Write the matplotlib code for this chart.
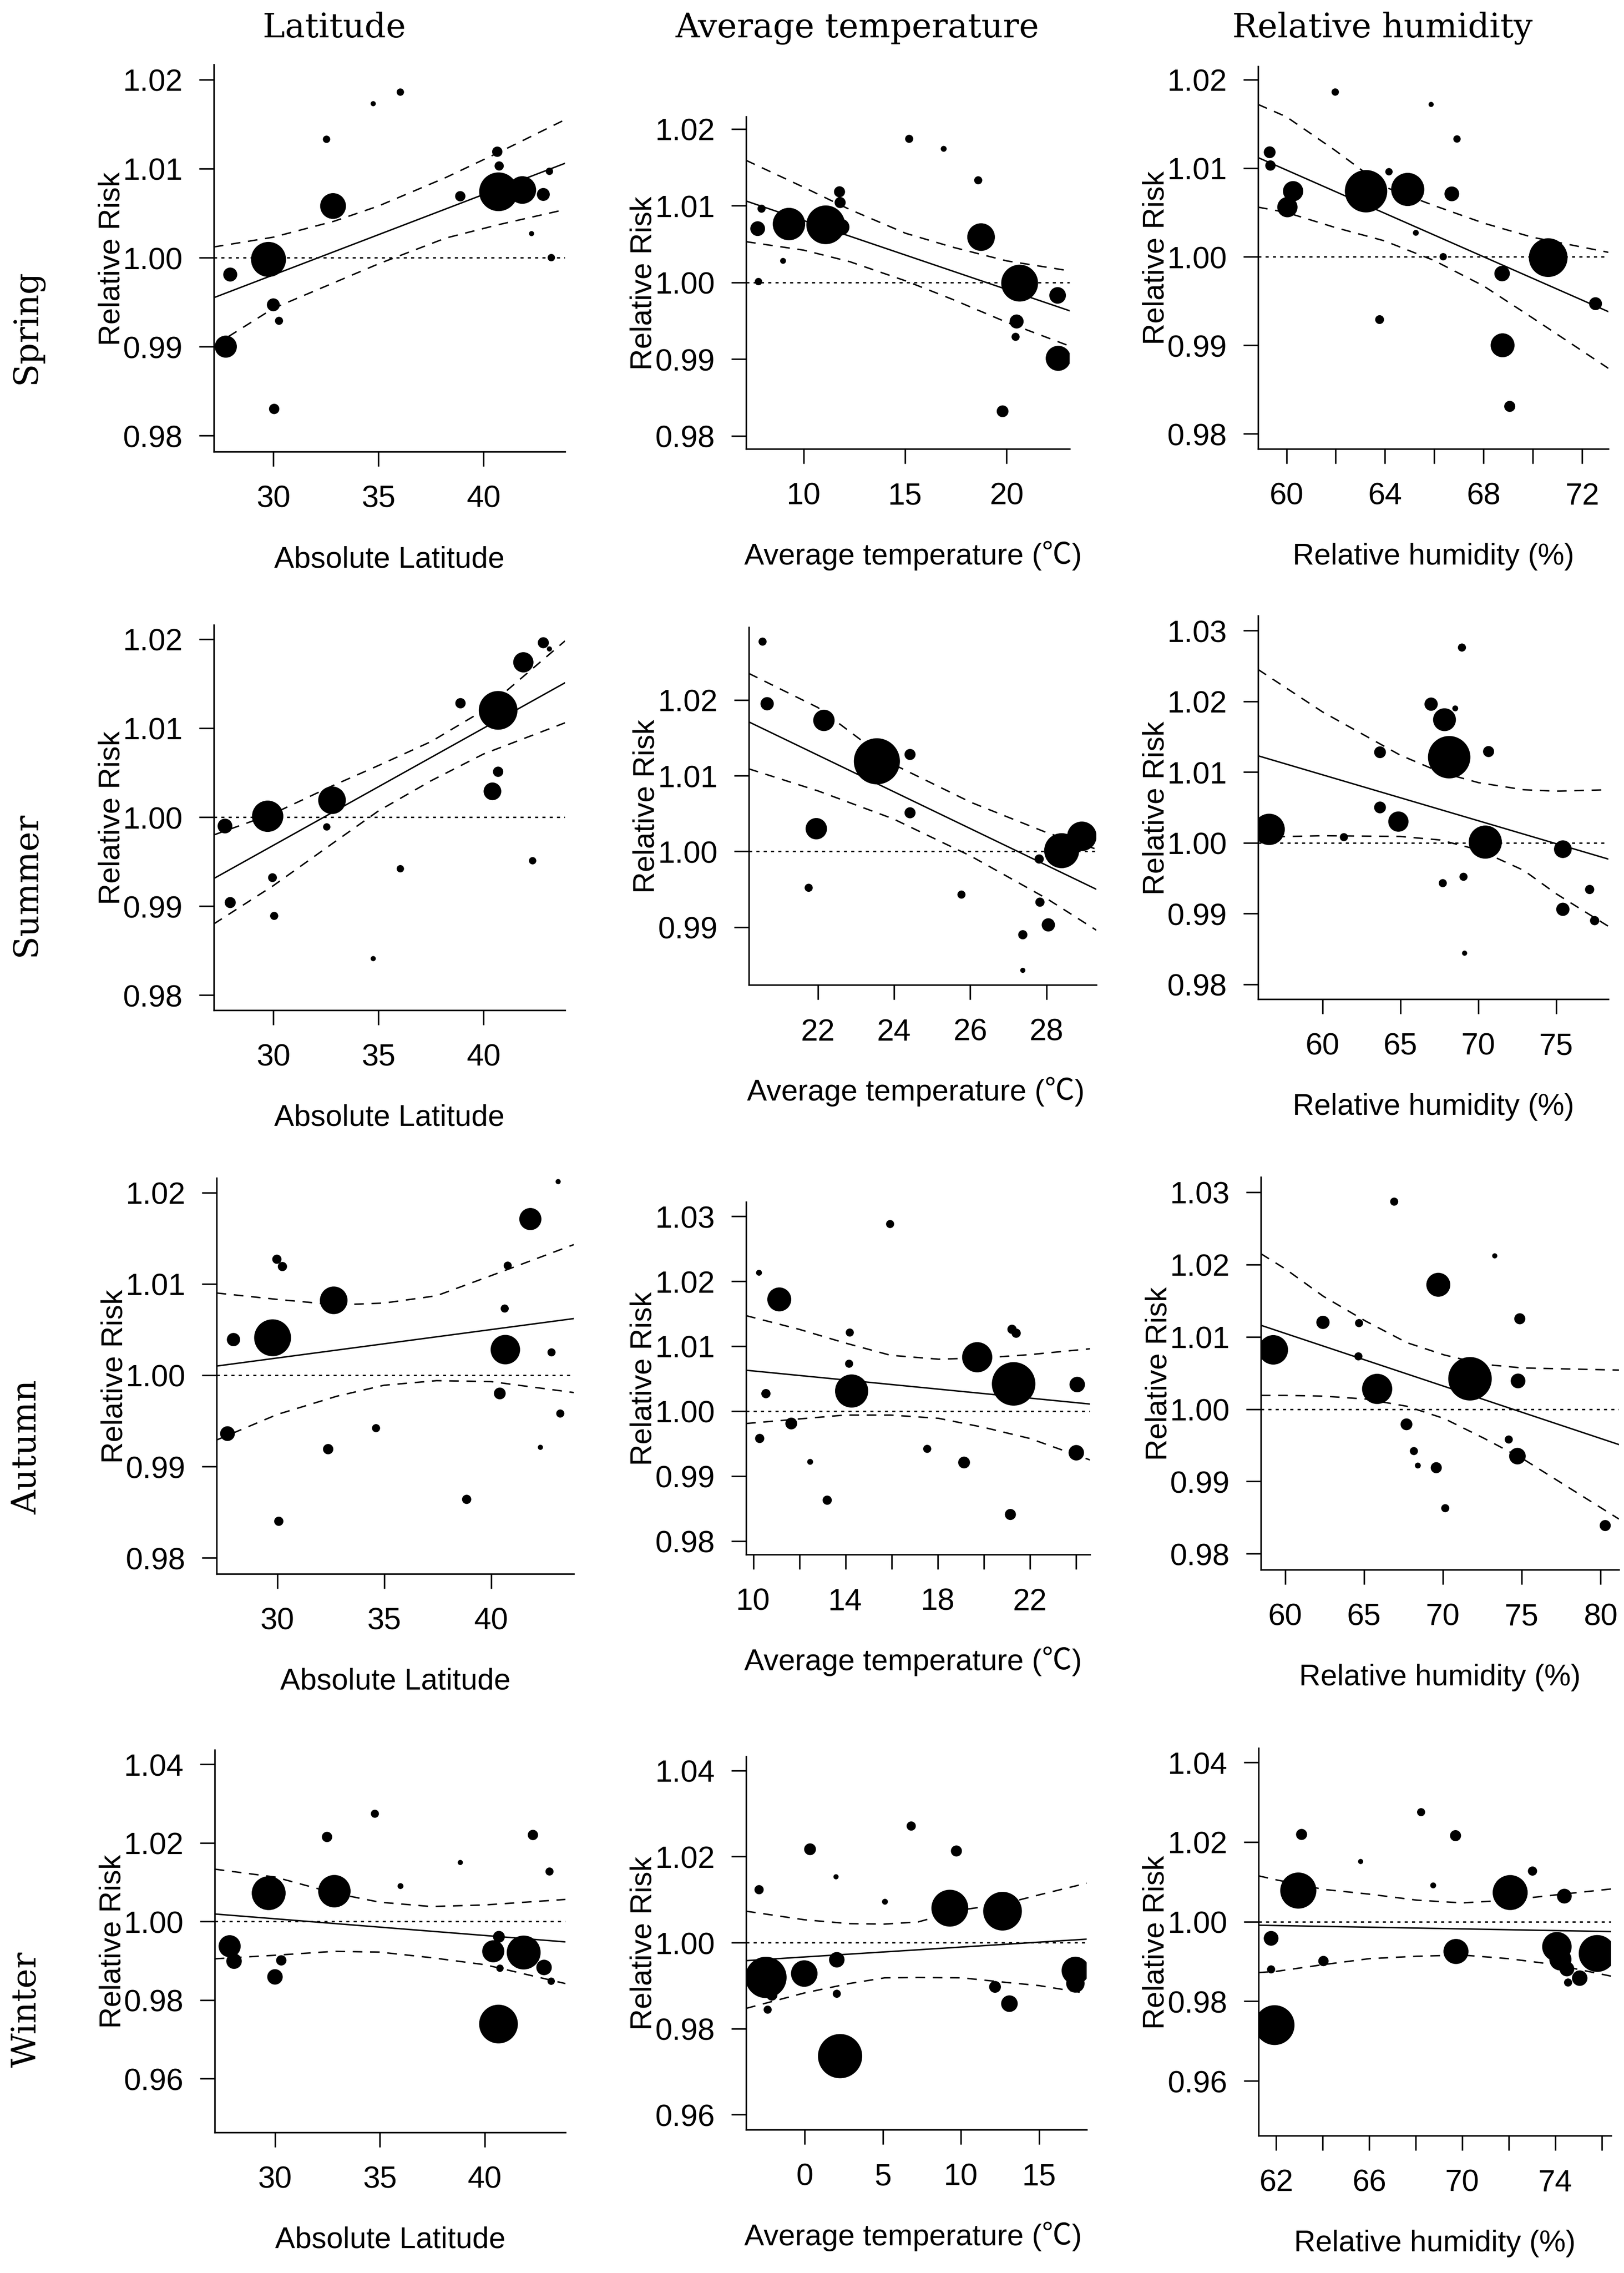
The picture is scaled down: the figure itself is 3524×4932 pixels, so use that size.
import numpy as np
import matplotlib
matplotlib.use("Agg")
import matplotlib.pyplot as plt
from matplotlib.text import Annotation

plt.rcParams['font.family'] = ['Liberation Sans', 'Noto Sans CJK SC', 'DejaVu Sans']
plt.rcParams['lines.scale_dashes'] = False

# ---------------- data ----------------
# Spring
spr_lat_x = [27.74, 27.95, 29.77, 30.00, 30.27, 30.04, 32.53, 32.84, 34.75, 36.04,
             38.89, 40.65, 40.74, 40.71, 41.84, 42.84, 42.28, 43.13, 43.22]
spr_lat_rr = [0.9900, 0.9981, 0.9998, 0.9947, 0.9929, 0.9830, 1.0133, 1.0058, 1.0173, 1.0186,
              1.0069, 1.0119, 1.0103, 1.0074, 1.0076, 1.0071, 1.0027, 1.0097, 1.0000]
spr_lat_w = [60, 38, 95, 35, 22, 28, 20, 70, 14, 20, 28, 28, 25, 105, 75, 35, 14, 20, 20]
spr_lat_fit = ([27.17, 43.87], [0.9955, 1.0106])
spr_lat_ci_x = [27.17, 30.0, 32.9, 35.0, 38.2, 40.7, 43.87]
spr_lat_hi = [1.0012, 1.0023, 1.0041, 1.0058, 1.0090, 1.0118, 1.0155]
spr_lat_lo = [0.9901, 0.9943, 0.9972, 0.9993, 1.0022, 1.0037, 1.0054]

spr_tmp_x = [7.74, 7.93, 7.78, 8.99, 9.28, 11.09, 11.85, 11.77, 11.80, 15.20,
             16.90, 18.60, 18.74, 20.64, 20.49, 20.44, 19.80, 22.51, 22.54]
spr_tmp_rr = [1.0070, 1.0096, 1.0001, 1.0028, 1.0076, 1.0075, 1.0072, 1.0118, 1.0104, 1.0187,
              1.0174, 1.0133, 1.0059, 0.9999, 0.9949, 0.9929, 0.9832, 0.9983, 0.9901]
spr_tmp_w = [40, 22, 20, 16, 88, 105, 45, 30, 30, 22, 16, 22, 75, 100, 38, 22, 32, 45, 68]
spr_tmp_fit = ([7.17, 23.10], [1.0106, 0.9963])
spr_tmp_ci_x = [7.17, 10.0, 12.27, 15.02, 17.32, 20.0, 23.10]
spr_tmp_hi = [1.0159, 1.0124, 1.0095, 1.0064, 1.0046, 1.0028, 1.0015]
spr_tmp_lo = [1.0053, 1.0042, 1.0027, 1.0002, 0.9978, 0.9948, 0.9917]

spr_rh_x = [59.32, 59.35, 60.27, 60.04, 61.98, 63.23, 64.16, 63.78, 64.92, 65.25,
            65.87, 66.36, 66.71, 66.92, 68.75, 68.77, 69.06, 70.62, 72.54]
spr_rh_rr = [1.0118, 1.0103, 1.0074, 1.0056, 1.0186, 1.0074, 1.0096, 0.9929, 1.0076, 1.0027,
             1.0172, 1.0000, 1.0071, 1.0133, 0.9981, 0.9900, 0.9831, 0.9999, 0.9947]
spr_rh_w = [32, 28, 55, 55, 20, 115, 20, 24, 90, 16, 14, 20, 40, 20, 42, 65, 30, 105, 35]
spr_rh_fit = ([58.85, 73.06], [1.0112, 0.9938])
spr_rh_ci_x = [58.85, 60.0, 61.98, 63.97, 65.97, 68.0, 69.98, 73.06]
spr_rh_hi = [1.0172, 1.0158, 1.0120, 1.0079, 1.0058, 1.0038, 1.0022, 1.0005]
spr_rh_lo = [1.0056, 1.0050, 1.0033, 1.0018, 0.9996, 0.9967, 0.9931, 0.9874]

# Summer
sum_lat_x = [27.70, 27.95, 29.73, 29.96, 30.04, 32.54, 32.79, 34.75, 36.04, 38.90,
             40.69, 40.69, 40.42, 41.89, 42.84, 43.13, 42.33]
sum_lat_rr = [0.9990, 0.9904, 1.0001, 0.9932, 0.9889, 0.9989, 1.0019, 0.9841, 0.9942, 1.0128,
              1.0120, 1.0051, 1.0029, 1.0174, 1.0196, 1.0189, 0.9951]
sum_lat_w = [40, 30, 85, 24, 22, 20, 75, 14, 20, 28, 105, 28, 48, 55, 30, 14, 20]
sum_lat_fit = ([27.17, 43.87], [0.9931, 1.0151])
sum_lat_ci_x = [27.17, 30.0, 32.79, 35.0, 37.51, 40.0, 43.87]
sum_lat_hi = [0.9980, 1.0004, 1.0035, 1.0058, 1.0085, 1.0120, 1.0198]
sum_lat_lo = [0.9880, 0.9923, 0.9970, 1.0007, 1.0041, 1.0071, 1.0106]

sum_tmp_x = [20.55, 20.67, 22.16, 23.55, 24.42, 24.42, 21.96, 21.76, 25.77, 27.38,
             27.38, 27.83, 28.05, 27.81, 28.40, 28.93]
sum_tmp_rr = [1.0277, 1.0195, 1.0173, 1.0119, 1.0128, 1.0051, 1.0030, 0.9952, 0.9943, 0.9890,
              0.9843, 0.9933, 0.9903, 0.9990, 1.0001, 1.0020]
sum_tmp_w = [22, 36, 58, 125, 30, 30, 58, 22, 22, 25, 14, 25, 36, 25, 95, 80]
sum_tmp_fit = ([20.19, 29.31], [1.0171, 0.9950])
sum_tmp_ci_x = [20.19, 22.0, 23.98, 26.01, 28.0, 29.31]
sum_tmp_hi = [1.0235, 1.0190, 1.0115, 1.0065, 1.0025, 1.0003]
sum_tmp_lo = [1.0109, 1.0080, 1.0043, 0.9994, 0.9938, 0.9896]

sum_rh_x = [56.57, 61.37, 63.69, 63.69, 64.87, 66.97, 67.83, 68.52, 68.13, 68.95,
            70.66, 70.45, 67.72, 69.05, 69.12, 75.43, 75.43, 77.15, 77.47]
sum_rh_rr = [1.0019, 1.0008, 1.0128, 1.0050, 1.0030, 1.0196, 1.0174, 1.0190, 1.0121, 1.0276,
             1.0129, 1.0001, 0.9943, 0.9952, 0.9844, 0.9991, 0.9906, 0.9934, 0.9890]
sum_rh_w = [85, 22, 32, 32, 55, 36, 62, 16, 115, 22, 30, 90, 22, 22, 14, 48, 36, 25, 25]
sum_rh_fit = ([55.86, 78.35], [1.0123, 0.9977])
sum_rh_ci_x = [55.86, 60.0, 64.98, 67.55, 70.02, 72.92, 75.0, 78.35]
sum_rh_hi = [1.0245, 1.0185, 1.0124, 1.0100, 1.0085, 1.0075, 1.0073, 1.0075]
sum_rh_lo = [1.0008, 1.0010, 1.0009, 1.0004, 0.9990, 0.9961, 0.9928, 0.9882]

# Autumn
aut_lat_x = [27.67, 27.95, 29.78, 29.98, 30.24, 30.07, 32.38, 32.64, 34.62, 38.86,
             40.78, 40.64, 40.67, 40.41, 41.84, 42.83, 43.24, 42.31, 43.14]
aut_lat_rr = [0.9936, 1.0039, 1.0041, 1.0127, 1.0119, 0.9840, 0.9919, 1.0082, 0.9942, 0.9864,
              1.0120, 1.0073, 1.0028, 0.9980, 1.0171, 1.0025, 0.9958, 0.9921, 1.0212]
aut_lat_w = [40, 36, 100, 25, 25, 25, 28, 75, 22, 25, 22, 22, 80, 32, 60, 22, 22, 14, 14]
aut_lat_fit = ([27.16, 43.87], [1.0010, 1.0062])
aut_lat_ci_x = [27.16, 30.0, 32.79, 35.0, 37.45, 40.0, 43.87]
aut_lat_hi = [1.0090, 1.0083, 1.0077, 1.0079, 1.0087, 1.0109, 1.0143]
aut_lat_lo = [0.9929, 0.9957, 0.9977, 0.9989, 0.9994, 0.9993, 0.9981]

aut_tmp_x = [10.25, 11.13, 10.55, 10.28, 11.65, 12.47, 13.21, 14.19, 14.16, 14.27,
             15.94, 17.55, 19.15, 19.72, 21.23, 21.41, 21.30, 21.16, 24.06, 24.02]
aut_tmp_rr = [1.0213, 1.0172, 1.0027, 0.9958, 0.9981, 0.9922, 0.9863, 1.0121, 1.0073, 1.0031,
              1.0288, 0.9942, 0.9921, 1.0083, 1.0126, 1.0120, 1.0042, 0.9841, 1.0041, 0.9936]
aut_tmp_w = [16, 65, 25, 25, 32, 16, 25, 22, 22, 90, 22, 22, 32, 82, 25, 25, 118, 30, 42, 42]
aut_tmp_fit = ([9.69, 24.61], [1.0063, 1.0011])
aut_tmp_ci_x = [9.69, 11.99, 13.98, 15.96, 18.04, 20.01, 22.0, 24.61]
aut_tmp_hi = [1.0147, 1.0126, 1.0105, 1.0086, 1.0080, 1.0082, 1.0087, 1.0096]
aut_tmp_lo = [0.9981, 0.9988, 0.9994, 0.9994, 0.9989, 0.9975, 0.9958, 0.9925]

aut_rh_x = [59.24, 62.39, 64.68, 64.64, 65.83, 66.91, 69.71, 67.69, 68.16, 68.41,
            69.58, 70.15, 71.72, 73.29, 74.88, 74.77, 74.18, 74.73, 80.30]
aut_rh_rr = [1.0082, 1.0120, 1.0119, 1.0073, 1.0028, 1.0287, 1.0172, 0.9979, 0.9942, 0.9922,
             0.9919, 0.9863, 1.0042, 1.0212, 1.0125, 1.0039, 0.9958, 0.9935, 0.9839]
aut_rh_w = [80, 36, 22, 22, 82, 22, 65, 32, 22, 16, 30, 22, 118, 14, 30, 40, 22, 45, 30]
aut_rh_fit = ([58.45, 81.17], [1.0116, 0.9951])
aut_rh_ci_x = [58.45, 60.0, 62.42, 65.08, 67.71, 70.08, 72.58, 75.02, 81.17]
aut_rh_hi = [1.0215, 1.0194, 1.0156, 1.0122, 1.0092, 1.0075, 1.0062, 1.0057, 1.0054]
aut_rh_lo = [1.0019, 1.0019, 1.0018, 1.0014, 1.0004, 0.9987, 0.9960, 0.9932, 0.9848]

# Winter
win_lat_x = [27.84, 28.05, 29.70, 30.00, 30.30, 32.48, 32.83, 34.76, 35.98, 38.83,
             40.67, 40.40, 40.72, 40.65, 41.85, 42.82, 43.16, 42.29, 43.08]
win_lat_rr = [0.9937, 0.9899, 1.0072, 0.9859, 0.9901, 1.0215, 1.0077, 1.0274, 1.0090, 1.0150,
              0.9961, 0.9924, 0.9881, 0.9739, 0.9921, 0.9883, 0.9848, 1.0220, 1.0127]
win_lat_w = [60, 42, 92, 42, 28, 28, 88, 22, 16, 14, 32, 60, 20, 105, 92, 42, 20, 28, 22]
win_lat_fit = ([27.13, 43.84], [1.0019, 0.9948])
win_lat_ci_x = [27.13, 30.0, 32.83, 34.99, 37.43, 40.0, 43.84]
win_lat_hi = [1.0133, 1.0113, 1.0072, 1.0049, 1.0038, 1.0042, 1.0056]
win_lat_lo = [0.9905, 0.9914, 0.9924, 0.9922, 0.9908, 0.9890, 0.9842]

win_tmp_x = [-2.91, -2.47, -2.09, -2.36, -0.02, 0.35, 2.01, 2.06, 2.06, 2.27,
             5.14, 6.82, 9.29, 9.71, 12.66, 12.18, 13.10, 17.32, 17.32]
win_tmp_rr = [1.0123, 0.9919, 0.9878, 0.9844, 0.9928, 1.0217, 1.0153, 0.9960, 0.9881, 0.9736,
              1.0095, 1.0271, 1.0080, 1.0213, 1.0073, 0.9897, 0.9858, 0.9935, 0.9905]
win_tmp_w = [25, 112, 30, 22, 72, 32, 14, 42, 22, 120, 16, 25, 100, 30, 105, 32, 45, 75, 50]
win_tmp_fit = ([-3.74, 18.04], [0.9958, 1.0008])
win_tmp_ci_x = [-3.74, 0.0, 2.89, 5.12, 7.26, 10.06, 12.73, 15.0, 18.04]
win_tmp_hi = [1.0073, 1.0053, 1.0044, 1.0043, 1.0048, 1.0076, 1.0090, 1.0111, 1.0138]
win_tmp_lo = [0.9847, 0.9883, 0.9905, 0.9918, 0.9919, 0.9918, 0.9908, 0.9900, 0.9882]

win_rh_x = [61.93, 61.78, 61.78, 62.95, 63.09, 64.03, 65.63, 68.23, 68.75, 69.71,
            69.73, 72.06, 73.02, 74.39, 74.07, 74.22, 74.50, 74.55, 75.05, 75.80]
win_rh_rr = [0.9740, 0.9958, 0.9880, 1.0078, 1.0219, 0.9901, 1.0151, 1.0275, 1.0091, 1.0216,
             0.9925, 1.0073, 1.0127, 1.0064, 0.9937, 0.9905, 0.9881, 0.9847, 0.9858, 0.9920]
win_rh_w = [108, 40, 22, 98, 30, 28, 14, 22, 16, 30, 68, 95, 25, 40, 80, 60, 40, 22, 42, 100]
win_rh_fit = ([61.24, 76.40], [0.9991, 0.9975])
win_rh_ci_x = [61.24, 62.0, 64.03, 66.01, 68.04, 70.0, 71.99, 74.0, 76.40]
win_rh_hi = [1.0115, 1.0105, 1.0081, 1.0069, 1.0054, 1.0047, 1.0054, 1.0067, 1.0082]
win_rh_lo = [0.9872, 0.9875, 0.9892, 0.9907, 0.9913, 0.9916, 0.9907, 0.9892, 0.9863]

col_titles = ['Latitude', 'Average temperature', 'Relative humidity']
row_titles = ['Spring', 'Summer', 'Autumn', 'Winter']
xlab_lat = 'Absolute Latitude'
xlab_tmp = 'Average temperature (℃)'
xlab_rh = 'Relative humidity (%)'

# ---------------- figure ----------------
W, H = 3524, 4933
DPI = 300
fig = plt.figure(figsize=(W / DPI, H / DPI), dpi=DPI)

FS = 15.5
TICK_FS = 16
SERIF = 17.5
LW = 0.75


def fx(px):
    return px / W


def fy(py):
    return 1 - py / H


def xlabel_text(l, r, b, xlabel):
    y = fy(b + 250)
    if '℃' not in xlabel:
        fig.text(fx((l + r) / 2), y, xlabel, ha='center', va='baseline', fontsize=FS)
        return
    # latin part in the Arial-like font, the ℃ sign taken from the CJK font
    head = xlabel.split('℃')[0]
    t1 = fig.text(fx(l - 4), y, head, ha='left', va='baseline', fontsize=FS)
    deg = Annotation('℃', xy=(1.0, 0.0), xycoords=t1, ha='left', va='bottom',
                     fontsize=FS, family='Noto Sans CJK SC')
    fig.add_artist(deg)
    fig.add_artist(Annotation(')', xy=(1.0, 0.0), xycoords=deg, ha='left', va='bottom',
                              fontsize=FS))


def panel(box, x, rr, w, fit, ci_x, hi, lo, xlim, ylim, xticks, xtl, yticks, xlabel):
    l, r, t, b = box
    ax = fig.add_axes([fx(l), fy(b), (r - l) / W, (b - t) / H])
    ax.axhline(1.0, color='k', lw=LW, dashes=(1.6, 2.2), zorder=1)
    ax.plot(fit[0], fit[1], color='k', lw=LW, zorder=2)
    ax.plot(ci_x, hi, color='k', lw=LW, dashes=(5, 4), zorder=2)
    ax.plot(ci_x, lo, color='k', lw=LW, dashes=(5, 4), zorder=2)
    d = np.array(w) * 0.80 * 72 / DPI
    ax.scatter(x, rr, s=d ** 2, c='k', linewidths=0, zorder=3)
    ax.set_xlim(*xlim)
    ax.set_ylim(*ylim)
    ax.set_xticks(xticks)
    ax.set_xticklabels(xtl)
    ax.set_yticks(yticks)
    ax.set_yticklabels([f'{v:.2f}' for v in yticks])
    for s in ['top', 'right']:
        ax.spines[s].set_visible(False)
    for s in ['left', 'bottom']:
        ax.spines[s].set_linewidth(0.8)
    ax.tick_params(axis='both', length=7.7, width=0.8, labelsize=TICK_FS, direction='out')
    ax.tick_params(axis='x', pad=9.5)
    ax.tick_params(axis='y', pad=8.5)
    fig.text(fx(l - 205), fy((t + b) / 2), 'Relative Risk', rotation=90,
             rotation_mode='anchor', ha='center', va='baseline', fontsize=FS)
    xlabel_text(l, r, b, xlabel)
    return ax


def labs(ticks, show):
    return [str(v) if v in show else '' for v in ticks]


y2 = [0.98, 0.99, 1.00, 1.01, 1.02]
y3 = [0.98, 0.99, 1.00, 1.01, 1.02, 1.03]
y4 = [0.96, 0.98, 1.00, 1.02, 1.04]

# row 1: spring
panel((464, 1226, 141, 981), spr_lat_x, spr_lat_rr, spr_lat_w, spr_lat_fit,
      spr_lat_ci_x, spr_lat_hi, spr_lat_lo, (27.17, 43.87), (0.9782, 1.0217),
      [30, 35, 40], ['30', '35', '40'], y2, xlab_lat)
panel((1619, 2321, 254, 975), spr_tmp_x, spr_tmp_rr, spr_tmp_w, spr_tmp_fit,
      spr_tmp_ci_x, spr_tmp_hi, spr_tmp_lo, (7.17, 23.10), (0.9783, 1.0216),
      [10, 15, 20], ['10', '15', '20'], y2, xlab_tmp)
t13 = [60, 62, 64, 66, 68, 70, 72]
panel((2730, 3490, 145, 975), spr_rh_x, spr_rh_rr, spr_rh_w, spr_rh_fit,
      spr_rh_ci_x, spr_rh_hi, spr_rh_lo, (58.85, 73.06), (0.9783, 1.0215),
      t13, labs(t13, [60, 64, 68, 72]), y2, xlab_rh)

# row 2: summer
panel((464, 1226, 1357, 2193), sum_lat_x, sum_lat_rr, sum_lat_w, sum_lat_fit,
      sum_lat_ci_x, sum_lat_hi, sum_lat_lo, (27.17, 43.87), (0.9783, 1.0216),
      [30, 35, 40], ['30', '35', '40'], y2, xlab_lat)
panel((1625, 2379, 1362, 2138), sum_tmp_x, sum_tmp_rr, sum_tmp_w, sum_tmp_fit,
      sum_tmp_ci_x, sum_tmp_hi, sum_tmp_lo, (20.19, 29.31), (0.98238, 1.0296),
      [22, 24, 26, 28], ['22', '24', '26', '28'], [0.99, 1.00, 1.01, 1.02], xlab_tmp)
panel((2730, 3490, 1337, 2169), sum_rh_x, sum_rh_rr, sum_rh_w, sum_rh_fit,
      sum_rh_ci_x, sum_rh_hi, sum_rh_lo, (55.86, 78.35), (0.9779, 1.0321),
      [60, 65, 70, 75], ['60', '65', '70', '75'], y3, xlab_rh)

# row 3: autumn
panel((470, 1245, 2557, 3416), aut_lat_x, aut_lat_rr, aut_lat_w, aut_lat_fit,
      aut_lat_ci_x, aut_lat_hi, aut_lat_lo, (27.16, 43.87), (0.97824, 1.0216),
      [30, 35, 40], ['30', '35', '40'], y2, xlab_lat)
t32 = [10, 12, 14, 16, 18, 20, 22, 24]
panel((1619, 2365, 2609, 3374), aut_tmp_x, aut_tmp_rr, aut_tmp_w, aut_tmp_fit,
      aut_tmp_ci_x, aut_tmp_hi, aut_tmp_lo, (9.69, 24.61), (0.97794, 1.0322),
      t32, labs(t32, [10, 14, 18, 22]), y3, xlab_tmp)
panel((2736, 3513, 2555, 3407), aut_rh_x, aut_rh_rr, aut_rh_w, aut_rh_fit,
      aut_rh_ci_x, aut_rh_hi, aut_rh_lo, (58.45, 81.17), (0.97779, 1.0321),
      [60, 65, 70, 75, 80], ['60', '65', '70', '75', '80'], y3, xlab_rh)

# row 4: winter
panel((466, 1227, 3798, 4628), win_lat_x, win_lat_rr, win_lat_w, win_lat_fit,
      win_lat_ci_x, win_lat_hi, win_lat_lo, (27.13, 43.84), (0.94633, 1.04364),
      [30, 35, 40], ['30', '35', '40'], y4, xlab_lat)
panel((1619, 2358, 3812, 4622), win_tmp_x, win_tmp_rr, win_tmp_w, win_tmp_fit,
      win_tmp_ci_x, win_tmp_hi, win_tmp_lo, (-3.74, 18.04), (0.9565, 1.0433),
      [0, 5, 10, 15], ['0', '5', '10', '15'], y4, xlab_tmp)
t43 = [62, 64, 66, 68, 70, 72, 74, 76]
panel((2731, 3496, 3794, 4635), win_rh_x, win_rh_rr, win_rh_w, win_rh_fit,
      win_rh_ci_x, win_rh_hi, win_rh_lo, (61.24, 76.40), (0.94623, 1.0436),
      t43, labs(t43, [62, 66, 70, 74]), y4, xlab_rh)

# column and row headings
for txt, cx in zip(col_titles, [725, 1860, 3000]):
    fig.text(fx(cx), fy(81), txt, ha='center', va='baseline',
             family='DejaVu Serif', fontsize=SERIF)
for txt, cy in zip(row_titles, [709, 1918, 3140, 4360]):
    fig.text(fx(78), fy(cy), txt, rotation=90, rotation_mode='anchor',
             ha='center', va='baseline', family='DejaVu Serif', fontsize=SERIF)

fig.savefig('out.png', dpi=DPI, facecolor='white')
